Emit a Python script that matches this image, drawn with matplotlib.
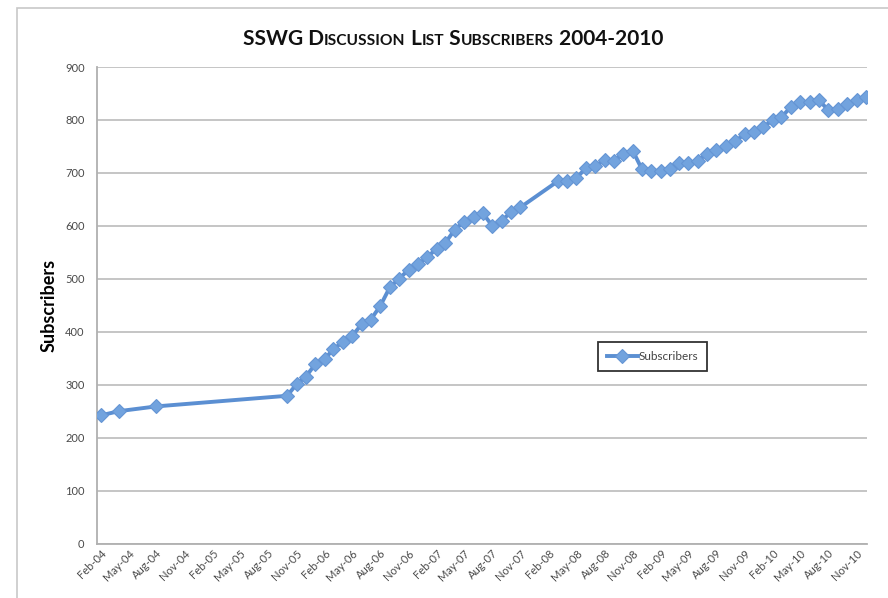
import matplotlib as mpl
import matplotlib.pyplot as plt
import matplotlib.dates as mdates
from matplotlib.patches import Rectangle
import pandas as pd

mpl.rc('font', family='Lato')

# monthly subscriber counts (gaps where no count was recorded)
months = ['2004-02', '2004-04', '2004-08', '2005-10', '2005-11', '2005-12',
          '2006-01', '2006-02', '2006-03', '2006-04', '2006-05', '2006-06',
          '2006-07', '2006-08', '2006-09', '2006-10', '2006-11', '2006-12',
          '2007-01', '2007-02', '2007-03', '2007-04', '2007-05', '2007-06',
          '2007-07', '2007-08', '2007-09', '2007-10', '2007-11', '2008-03',
          '2008-04', '2008-05', '2008-06', '2008-07', '2008-08', '2008-09',
          '2008-10', '2008-11', '2008-12', '2009-01', '2009-02', '2009-03',
          '2009-04', '2009-05', '2009-06', '2009-07', '2009-08', '2009-09',
          '2009-10', '2009-11', '2009-12', '2010-01', '2010-02', '2010-03',
          '2010-04', '2010-05', '2010-06', '2010-07', '2010-08', '2010-09',
          '2010-10', '2010-11', '2010-12']
subs = [242, 250, 259, 279, 301, 315,
        339, 349, 367, 381, 392, 414,
        423, 449, 484, 500, 517, 527,
        541, 557, 568, 593, 608, 616,
        624, 600, 610, 626, 635, 684,
        685, 690, 709, 713, 724, 723,
        736, 742, 707, 704, 704, 707,
        718, 718, 723, 736, 743, 751,
        760, 773, 778, 787, 800, 805,
        825, 833, 833, 838, 818, 820,
        830, 838, 843]
yticks = [0, 100, 200, 300, 400, 500, 600, 700, 800, 900]

dates = pd.to_datetime(months)

W, H = 888, 598
fig = plt.figure(figsize=(W / 100, H / 100), dpi=100)
ax = fig.add_axes([97 / W, 1 - 543.5 / H, 770 / W, 476.5 / H])

# chart area border
fig.patches.append(Rectangle((17 / W, -0.05), 1.2, 1.05 - 8 / H,
                             transform=fig.transFigure, fill=False,
                             ec='#c8c8c8', lw=1.2))

ax.plot(dates, subs, color='#5b8fd2', lw=2.8, marker='D', ms=6.8,
        mfc='#72a3de', mec='#6595d4', mew=0.8, label='Subscribers', zorder=3)

ax.set_ylim(0, 900)
ax.set_yticks(yticks)
ax.set_xlim(pd.Timestamp('2004-01-20'), pd.Timestamp('2010-12-05'))
ax.xaxis.set_major_locator(mdates.MonthLocator(bymonth=[2, 5, 8, 11], bymonthday=1))
ax.xaxis.set_major_formatter(mdates.DateFormatter('%b-%y'))

ax.grid(axis='y', color='#c0c0c0', lw=1.3)
ax.set_axisbelow(True)
for s in ['top', 'right']:
    ax.spines[s].set_visible(False)
for s in ['left', 'bottom']:
    ax.spines[s].set_color('#b0b0b0')
    ax.spines[s].set_linewidth(1.3)
ax.tick_params(length=0, labelsize=8, labelcolor='#4a4a4a')
ax.tick_params(axis='y', pad=9)
ax.tick_params(axis='x', pad=3)
for lab in ax.get_xticklabels():
    lab.set_rotation(45)
    lab.set_ha('right')
    lab.set_va('top')
    lab.set_rotation_mode('anchor')

ax.set_ylabel('Subscribers', fontsize=13, fontweight='bold', labelpad=5)

leg = ax.legend(loc='upper left', bbox_to_anchor=(0.651, 0.423), numpoints=1,
                fancybox=False, edgecolor='#333333', fontsize=8.5, handlelength=2.6,
                handletextpad=0.1, borderpad=0.75, borderaxespad=0, framealpha=1)
leg.get_frame().set_linewidth(1.3)
for t in leg.get_texts():
    t.set_color('#444444')

# small-caps title built from chunks of two sizes
chunks = [('SSWG D', 15), ('ISCUSSION', 11.2), (' L', 15), ('IST', 11.2),
          (' S', 15), ('UBSCRIBERS', 11.2), (' 2004-2010', 15)]
txts = [fig.text(0, 1 - 45 / H, s, fontsize=fs, fontweight='bold',
                 ha='left', va='baseline', color='#111111') for s, fs in chunks]

# place chunks one after another and center the whole title
fig.canvas.draw()
r = fig.canvas.get_renderer()
widths = [t.get_window_extent(r).width for t in txts]
x = 453 - sum(widths) / 2
for t, w in zip(txts, widths):
    t.set_position((x / W, 1 - 45 / H))
    x += w

fig.savefig('out.png', dpi=100)
